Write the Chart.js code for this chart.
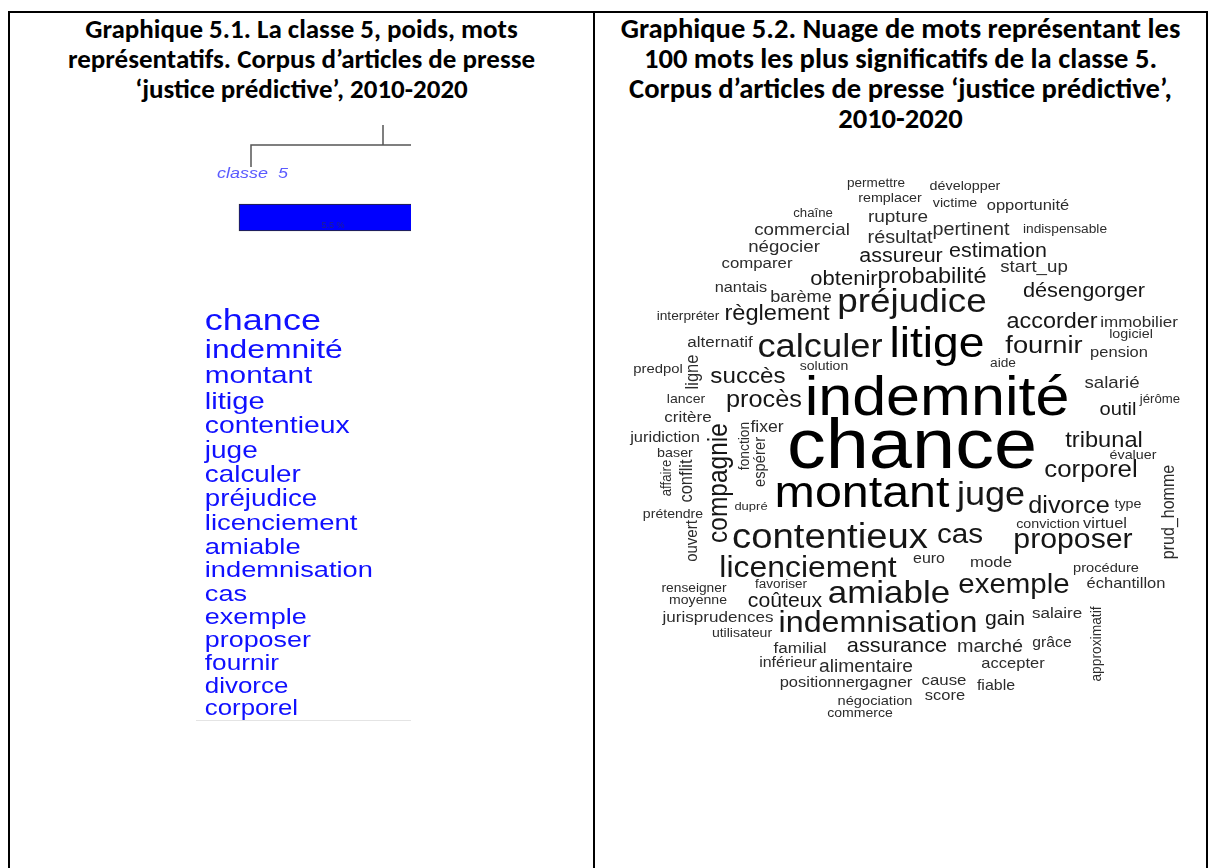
<!DOCTYPE html>
<html lang="fr">
<head>
<meta charset="UTF-8">
<title>Classe 5 - justice prédictive</title>
<script src="https://cdn.jsdelivr.net/npm/chart.js"></script>
<style>
    body { margin: 0; background: #fff; width: 1215px; height: 868px; overflow: hidden; position: relative; }
    .ligne { position: absolute; background: #000; }
    .titre {
        position: absolute;
        top: 14px;
        text-align: center;
        font-family: Carlito, Lato, "Open Sans", sans-serif;
        font-weight: bold;
        font-size: 28px;
        line-height: 30px;
        color: #000;
    }
    canvas { position: absolute; }
</style>
</head>
<body>
    <!-- bordures du tableau -->
    <div class="ligne" style="left:8px; top:11px; width:1200px; height:2px;"></div>
    <div class="ligne" style="left:8px; top:11px; width:2px; height:857px;"></div>
    <div class="ligne" style="left:593px; top:11px; width:2px; height:857px;"></div>
    <div class="ligne" style="left:1206px; top:11px; width:2px; height:857px;"></div>

    <div class="titre" style="left:10px; width:583px; font-size:27px;">Graphique 5.1. La classe 5, poids, mots<br>représentatifs. Corpus d’articles de presse<br>‘justice prédictive’, 2010-2020</div>
    <div class="titre" style="left:595px; width:611px; font-size:28.6px;">Graphique 5.2. Nuage de mots représentant les<br>100 mots les plus significatifs de la classe 5.<br>Corpus d’articles de presse ‘justice prédictive’,<br>2010-2020</div>

    <canvas id="classeChart" width="215" height="602" style="left:196px; top:120px;"></canvas>
    <canvas id="nuageChart" width="600" height="590" style="left:600px; top:160px;"></canvas>

<script>
// --- Graphique 5.1 : classe 5 ---
const nomClasse = 'classe 5';
const poidsClasse = 5.5; // % des segments
const motsClasse = ['chance', 'indemnité', 'montant', 'litige', 'contentieux', 'juge', 'calculer',
    'préjudice', 'licenciement', 'amiable', 'indemnisation', 'cas', 'exemple', 'proposer',
    'fournir', 'divorce', 'corporel'];
const chi2Classe = [600, 390, 288, 258, 216, 198, 192, 186, 174, 168, 162, 156, 150, 144, 108, 96, 90];

// --- Graphique 5.2 : nuage de mots ---
const motsNuage = ['permettre', 'remplacer', 'développer', 'victime', 'opportunité', 'chaîne', 'rupture',
    'commercial', 'résultat', 'pertinent', 'indispensable', 'négocier', 'assureur', 'estimation',
    'comparer', 'start_up', 'obtenir', 'probabilité', 'nantais', 'désengorger', 'barème', 'préjudice',
    'interpréter', 'règlement', 'accorder', 'immobilier', 'logiciel', 'alternatif', 'calculer', 'litige',
    'fournir', 'pension', 'predpol', 'ligne', 'solution', 'aide', 'succès', 'salarié', 'indemnité',
    'lancer', 'procès', 'jérôme', 'outil', 'critère', 'fixer', 'juridiction', 'compagnie', 'fonction',
    'espérer', 'tribunal', 'chance', 'baser', 'évaluer', 'affaire', 'conflit', 'corporel', 'prud_homme',
    'montant', 'juge', 'divorce', 'type', 'dupré', 'prétendre', 'conviction', 'virtuel', 'ouvert',
    'contentieux', 'cas', 'proposer', 'licenciement', 'euro', 'mode', 'procédure', 'exemple',
    'échantillon', 'renseigner', 'favoriser', 'amiable', 'moyenne', 'coûteux', 'jurisprudences',
    'indemnisation', 'gain', 'salaire', 'approximatif', 'utilisateur', 'familial', 'assurance', 'marché',
    'grâce', 'inférieur', 'alimentaire', 'accepter', 'positionner', 'gagner', 'cause', 'fiable',
    'négociation', 'score', 'commerce'];
const freqNuage = [49, 52, 52, 52, 60, 48, 69, 68, 72, 72, 50, 68, 78, 78, 61, 68, 80, 86, 59, 79, 66, 134,
    50, 86, 85, 62, 52, 62, 132, 168, 99, 60, 54, 66, 51, 50, 88, 68, 222, 51, 92, 48, 73, 62, 64, 60, 98, 55,
    59, 86, 282, 52, 52, 53, 66, 94, 64, 176, 131, 92, 52, 47, 51, 52, 60, 60, 139, 108, 110, 116, 58, 61,
    53, 107, 60, 50, 49, 127, 51, 77, 62, 117, 77, 62, 55, 51, 62, 79, 72, 57, 58, 70, 60, 60, 62, 61, 58,
    53, 60, 51];
// position de chaque mot dans le nuage (centre = 0,0)
const xNuage = [-39, -25, 50, 40, 113, -102, -17, -113, -15, 56, 150, -131, -14, 83, -158, 119, -71, 17,
    -174, 169, -114, -3, -227, -138, 137, 224, 216, -195, -95, 22, 129, 204, -257, -222, -91, 88, -167, 197,
    22, -229, -151, 245, 203, -227, -148, -250, -195, -170, -154, 189, -3, -240, 218, -248, -228, 176, 254,
    -53, 76, 154, 213, -164, -242, 133, 190, -223, -85, 45, 158, -107, 14, 76, 191, 99, 211, -221, -134,
    -26, -217, -130, -197, -37, 90, 142, 182, -173, -115, -18, 75, 137, -127, -49, 98, -95, -29, 29, 81,
    -40, 30, -55];
const yNuage = [263, 248, 260, 243, 240, 233, 228, 215, 207, 215, 217, 198, 188, 193, 182, 178, 165, 167,
    158, 153, 148, 138, 130, 130, 122, 123, 112, 103, 93, 93, 97, 93, 77, 78, 80, 83, 67, 62, 35, 47, 43,
    47, 35, 28, 18, 8, -33, 4, -12, 3, -18, -7, -9, -28, -31, -27, -62, -57, -55, -63, -58, -60, -68, -78,
    -78, -91, -98, -93, -98, -127, -113, -117, -122, -143, -138, -142, -138, -153, -154, -157, -172, -182,
    -175, -168, -194, -187, -203, -202, -202, -197, -217, -222, -218, -237, -237, -235, -240, -255, -250,
    -267];
const verticalNuage = ['ligne', 'compagnie', 'fonction', 'espérer', 'affaire', 'conflit', 'prud_homme',
    'ouvert', 'approximatif'];

const policeMots = '"Liberation Sans", Arial, Helvetica, sans-serif';

function tailleClasse(chi2) {
    return 20 + chi2 / 60;
}

function tailleNuage(freq) {
    return freq / 4;
}

function couleurNuage(taille) {
    if (taille > 40) return '#000';
    if (taille > 18) return '#161616';
    return '#2c2c2c';
}

// ordonnée des mots : interligne proportionnelle à la taille
const yMotsClasse = [];
chi2Classe.forEach((v, i) => {
    if (i === 0) yMotsClasse.push(210);
    else yMotsClasse.push(yMotsClasse[i - 1] + tailleClasse(v) * 1.042);
});

const textesClasse = {
    id: 'textesClasse',
    beforeDatasetsDraw(chart) {
        const ctx = chart.ctx;
        ctx.save();
        // branche du dendrogramme
        ctx.strokeStyle = '#555';
        ctx.lineWidth = 1.5;
        ctx.beginPath();
        ctx.moveTo(187, 5);
        ctx.lineTo(187, 25);
        ctx.moveTo(55, 47);
        ctx.lineTo(55, 25);
        ctx.lineTo(215, 25);
        ctx.stroke();
        ctx.strokeStyle = '#e4e4e4';
        ctx.lineWidth = 1;
        ctx.beginPath();
        ctx.moveTo(0, 600.5);
        ctx.lineTo(215, 600.5);
        ctx.stroke();
        ctx.restore();
    },
    afterDatasetsDraw(chart) {
        const ctx = chart.ctx;
        const barre = chart.getDatasetMeta(0).data[0];
        ctx.save();
        // nom de la classe
        ctx.translate(barre.base - 22, 58);
        ctx.scale(1.2, 1);
        ctx.font = 'italic 15px ' + policeMots;
        ctx.fillStyle = '#5a5aff';
        ctx.fillText(nomClasse.replace(' ', '  '), 0, 0);
        ctx.restore();

        ctx.save();
        ctx.font = '9px ' + policeMots;
        ctx.fillStyle = '#20208a';
        ctx.textAlign = 'center';
        ctx.fillText(poidsClasse.toFixed(1) + ' %', (barre.x + barre.base) / 2, barre.y + 10);
        ctx.restore();

        chart.getDatasetMeta(1).data.forEach((pt, i) => {
            ctx.save();
            ctx.translate(pt.x, pt.y);
            ctx.scale(1.2, 1);
            ctx.font = tailleClasse(chi2Classe[i]).toFixed(1) + 'px ' + policeMots;
            ctx.fillStyle = '#1010ff';
            ctx.textAlign = 'left';
            ctx.textBaseline = 'alphabetic';
            ctx.fillText(motsClasse[i], 0, 0);
            ctx.restore();
        });
    }
};

new Chart(document.getElementById('classeChart'), {
    type: 'scatter',
    data: {
        datasets: [{
            type: 'bar',
            indexAxis: 'y',
            label: nomClasse,
            data: [{ x: poidsClasse, y: 97.5 }],
            backgroundColor: '#0000ff',
            borderColor: '#2a2a2a',
            borderWidth: 1,
            borderSkipped: false,
            barThickness: 27
        }, {
            label: 'mots',
            data: motsClasse.map((m, i) => ({ x: -1, y: yMotsClasse[i] })),
            pointRadius: 0
        }]
    },
    options: {
        responsive: false,
        animation: false,
        layout: { padding: 0 },
        plugins: { legend: { display: false }, tooltip: { enabled: false } },
        scales: {
            x: { type: 'linear', min: -1.258, max: 5.032, offset: false, display: false },
            y: { type: 'linear', min: 0, max: 602, reverse: true, offset: false, display: false }
        }
    },
    plugins: [textesClasse]
});

const textesNuage = {
    id: 'textesNuage',
    afterDatasetsDraw(chart) {
        const ctx = chart.ctx;
        chart.getDatasetMeta(0).data.forEach((pt, i) => {
            const taille = tailleNuage(freqNuage[i]);
            const vertical = verticalNuage.includes(motsNuage[i]);
            ctx.save();
            ctx.translate(pt.x, pt.y);
            ctx.scale(1.1, 1);
            if (vertical) ctx.rotate(-Math.PI / 2);
            ctx.font = taille.toFixed(1) + 'px ' + policeMots;
            ctx.fillStyle = couleurNuage(taille);
            ctx.textAlign = 'center';
            ctx.textBaseline = vertical ? 'middle' : 'alphabetic';
            ctx.fillText(motsNuage[i], 0, 0);
            ctx.restore();
        });
    }
};

new Chart(document.getElementById('nuageChart'), {
    type: 'scatter',
    data: {
        datasets: [{
            label: 'nuage',
            data: motsNuage.map((m, i) => ({ x: xNuage[i], y: yNuage[i] })),
            pointRadius: 0
        }]
    },
    options: {
        responsive: false,
        animation: false,
        layout: { padding: 0 },
        plugins: { legend: { display: false }, tooltip: { enabled: false } },
        scales: {
            x: { type: 'linear', min: -315, max: 285, display: false },
            y: { type: 'linear', min: -300, max: 290, display: false }
        }
    },
    plugins: [textesNuage]
});
</script>
</body>
</html>
